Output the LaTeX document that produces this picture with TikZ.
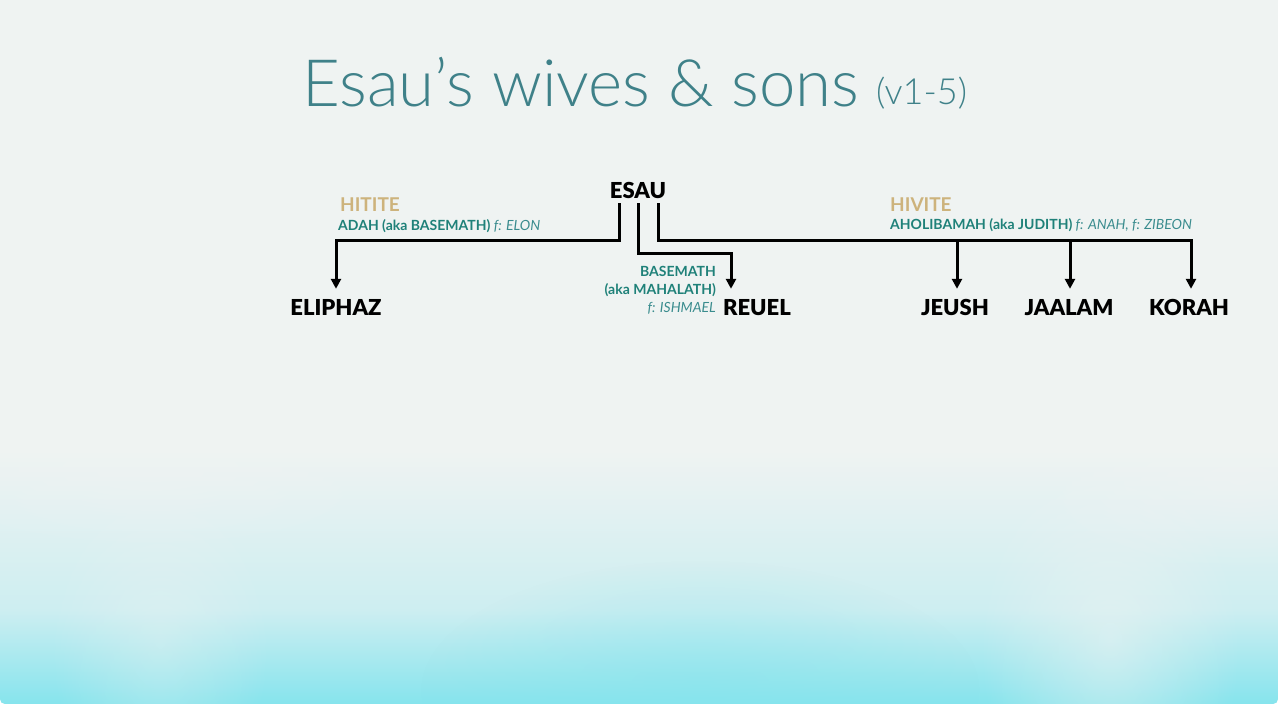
\documentclass[tikz,border=0pt]{standalone}
\usepackage{fontspec}
\setmainfont{Lato}
\newfontfamily\titlefont{Lato Light}
\newfontfamily\blackfont{Lato Black}
\usetikzlibrary{arrows.meta,fadings}
\tikzfading[name=blob, inner color=transparent!0, outer color=transparent!100]
\definecolor{bg}{HTML}{EFF3F2}
\definecolor{cyanA}{HTML}{86E4ED}
\definecolor{cyanM}{HTML}{CDEEF1}
\definecolor{titleteal}{HTML}{3F8189}
\definecolor{wteal}{HTML}{1F8179}
\definecolor{iteal}{HTML}{3A8C8E}
\definecolor{tan}{HTML}{CDB37C}
\tikzset{
  person/.style={font=\blackfont\fontsize{22}{22}\selectfont, inner sep=0pt, text height=16pt, text depth=0pt},
  tribe/.style={font=\bfseries\fontsize{19}{19}\selectfont, text=tan, inner sep=0pt, anchor=base west},
  wife/.style={font=\bfseries\fontsize{14}{18}\selectfont, text=wteal, inner sep=0pt},
  conn/.style={line width=3pt, line join=miter},
  arr/.style={conn, -{Triangle[width=10pt,length=10pt]}, shorten >=10.5pt},
}
\newcommand\fathtext[1]{{\mdseries\itshape\color{iteal}#1}}
\begin{document}
\begin{tikzpicture}[x=1pt,y=-1pt]
% background
\useasboundingbox (0,0) rectangle (1278,704);
\fill[white] (0,0) rectangle (1278,704);
\begin{scope}
\clip[rounded corners=5pt] (0,-10) rectangle (1278,704);
\fill[bg] (0,0) rectangle (1278,704);
\shade[top color=bg, bottom color=cyanM] (0,450) rectangle (1278,611);
\shade[top color=cyanM, bottom color=cyanA] (0,610) rectangle (1278,704);
\fill[bg, path fading=blob, opacity=0.55] (1110,640) ellipse [x radius=130pt, y radius=200pt];
\fill[bg, path fading=blob, opacity=0.35] (160,640) ellipse [x radius=110pt, y radius=170pt];
\fill[bg, path fading=blob, opacity=0.6] (1240,480) ellipse [x radius=220pt, y radius=90pt];
\fill[bg, path fading=blob, opacity=0.5] (150,470) ellipse [x radius=260pt, y radius=80pt];
\fill[cyanA, path fading=blob, opacity=0.45] (700,690) ellipse [x radius=280pt, y radius=130pt];
\end{scope}

% title
\node[anchor=base west, inner sep=0pt, text=titleteal, font=\titlefont\fontsize{65.3}{65.3}\selectfont] (title) at (302,106) {Esau’s wives \& sons};
\node[anchor=base west, inner sep=0pt, text=titleteal, font=\titlefont\fontsize{36}{36}\selectfont] (vv) at (876,104) {(v1-5)};

% people
\node[person] (esau) at (638,190) {ESAU};
\node[person] (eliphaz) at (336,307.5) {ELIPHAZ};
\node[person] (reuel) at (757,307.5) {REUEL};
\node[person] (jeush) at (955,307.5) {JEUSH};
\node[person] (jaalam) at (1069,307.5) {JAALAM};
\node[person] (korah) at (1189,307.5) {KORAH};

% wives
\node[tribe] (hitite) at (340,211) {HITITE};
\node[wife, anchor=base west] (adah) at (338,230) {ADAH (aka BASEMATH) \fathtext{f: ELON}};
\node[tribe] (hivite) at (890,211) {HIVITE};
\node[wife, anchor=base west] (aholi) at (890,229.5) {AHOLIBAMAH (aka JUDITH) \fathtext{f: ANAH, f: ZIBEON}};
\node[wife, anchor=base east, align=right] (basemath) at (716,312) {BASEMATH\\(aka MAHALATH)\\\fathtext{f: ISHMAEL}};

% connectors
\coordinate (jt) at ([xshift=2pt]jeush.north);
\coordinate (at) at ([xshift=1pt]jaalam.north);
\draw[arr] ([xshift=-19pt,yshift=-5pt]esau.south) -- ++(0,37) -| (eliphaz.north);
\draw[arr] ([xshift=0.5pt,yshift=-5pt]esau.south) -- ++(0,50) -| ([xshift=-26pt]reuel.north);
\draw[arr] ([xshift=20pt,yshift=-5pt]esau.south) -- ++(0,37) coordinate (rj) -| ([xshift=2pt]korah.north);
\draw[arr] (rj -| jt) -- (jt);
\draw[arr] (rj -| at) -- (at);
\end{tikzpicture}
\end{document}
